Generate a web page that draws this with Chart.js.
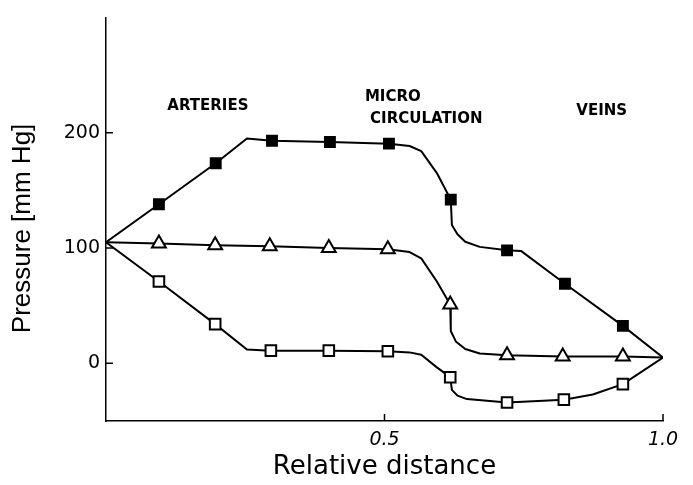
<!DOCTYPE html>
<html>
<head>
<meta charset="utf-8">
<script src="https://cdn.jsdelivr.net/npm/chart.js@4.4.1/dist/chart.umd.min.js"></script>
<style>
  html, body { margin: 0; padding: 0; background: #fff; }
  #wrap { width: 693px; height: 485px; }
</style>
</head>
<body>
<div id="wrap"><canvas id="pressureChart" width="693" height="485"></canvas></div>
<script>
// traced curves (mark = 1 where a symbol is drawn)
const highX = [0, 0.095, 0.197, 0.253, 0.298, 0.402, 0.508, 0.545, 0.566, 0.594, 0.619, 0.621, 0.631, 0.645, 0.671, 0.72, 0.745, 0.824, 0.928, 1.0];
const highY = [105, 138, 173.5, 195, 193, 192, 190.5, 188.5, 184, 165, 142, 120, 112, 105.5, 101, 98, 97.5, 69, 32.5, 5];
const highMark = [0, 1, 1, 0, 1, 1, 1, 0, 0, 0, 1, 0, 0, 0, 0, 1, 0, 1, 1, 0];

const midX = [0, 0.095, 0.196, 0.294, 0.4, 0.506, 0.545, 0.566, 0.594, 0.618, 0.619, 0.628, 0.645, 0.671, 0.72, 0.82, 0.928, 1.0];
const midY = [105, 104, 102.5, 101.5, 100, 99, 96.5, 91, 71, 51, 28, 19, 12.5, 8.5, 7, 6, 6, 5];
const midMark = [0, 1, 1, 1, 1, 1, 0, 0, 0, 1, 0, 0, 0, 0, 1, 1, 1, 0];

const lowX = [0, 0.095, 0.196, 0.253, 0.296, 0.4, 0.506, 0.545, 0.566, 0.594, 0.618, 0.621, 0.631, 0.648, 0.72, 0.822, 0.874, 0.928, 1.0];
const lowY = [105, 71, 34, 12, 11, 11, 10.5, 9.5, 7.5, -3.5, -12, -23, -28, -31, -34, -31.5, -27, -18, 5];
const lowMark = [0, 1, 1, 0, 1, 1, 1, 0, 0, 0, 1, 0, 0, 0, 1, 1, 0, 1, 0];

// axis ticks
const xTicks = [0.5, 1.0];
const xTickLabels = ["0.5", "1.0"];
const yTicks = [0, 100, 200];

// region labels
const regionText = ["ARTERIES", "MICRO", "CIRCULATION", "VEINS"];
const regionX = [0.183, 0.515, 0.575, 0.89];
const regionY = [224.5, 232.5, 213, 220.5];

const yTitle = "Pressure [mm Hg]";

function toPoints(xs, ys) {
  return xs.map((x, i) => ({ x: x, y: ys[i] }));
}

function series(xs, ys, marks, style, r, fill) {
  return {
    data: toPoints(xs, ys),
    borderColor: "#000",
    borderWidth: 2,
    tension: 0,
    borderJoinStyle: "round",
    pointStyle: style,
    pointRadius: ctx => marks[ctx.dataIndex] ? r : 0,
    pointBackgroundColor: fill,
    pointBorderColor: "#000",
    pointBorderWidth: 2,
    fill: false
  };
}

// inside tick marks, y title, region labels
const extras = {
  id: "extras",
  afterDraw(chart) {
    const ctx = chart.ctx;
    const xs = chart.scales.x, ys = chart.scales.y;
    const area = chart.chartArea;
    ctx.save();
    ctx.strokeStyle = "#000";
    ctx.lineWidth = 1.5;
    ctx.beginPath();
    yTicks.forEach(v => {
      const py = ys.getPixelForValue(v);
      ctx.moveTo(area.left, py);
      ctx.lineTo(area.left + 7, py);
    });
    xTicks.forEach(v => {
      const px = xs.getPixelForValue(v);
      ctx.moveTo(px, area.bottom);
      ctx.lineTo(px, area.bottom - 7);
    });
    ctx.stroke();

    ctx.fillStyle = "#000";
    ctx.save();
    ctx.translate(23, ys.getPixelForValue(117));
    ctx.rotate(-Math.PI / 2);
    ctx.font = "26px 'Liberation Sans'";
    ctx.textAlign = "center";
    ctx.textBaseline = "middle";
    ctx.fillText(yTitle, 0, 0);
    ctx.restore();

    ctx.font = "bold 15px 'DejaVu Sans'";
    ctx.textAlign = "center";
    ctx.textBaseline = "alphabetic";
    regionText.forEach((t, i) => {
      ctx.fillText(t, xs.getPixelForValue(regionX[i]), ys.getPixelForValue(regionY[i]) + 5.5);
    });
    ctx.restore();
  }
};

new Chart(document.getElementById("pressureChart").getContext("2d"), {
  type: "line",
  data: {
    datasets: [
      series(highX, highY, highMark, "rect", 7, "#000"),
      series(midX, midY, midMark, "triangle", 8, "#fff"),
      series(lowX, lowY, lowMark, "rect", 7.5, "#fff")
    ]
  },
  options: {
    responsive: false,
    animation: false,
    events: [],
    layout: { padding: { top: 12, right: 30, left: 0, bottom: 0 } },
    plugins: {
      legend: { display: false },
      tooltip: { enabled: false }
    },
    scales: {
      x: {
        type: "linear",
        min: 0,
        max: 1,
        afterFit: s => { s.height = 64; },
        afterBuildTicks: s => { s.ticks = xTicks.map(v => ({ value: v })); },
        grid: { display: true, color: "rgba(0,0,0,0)", drawOnChartArea: false, drawTicks: false },
        border: { display: true, color: "#000", width: 1.5 },
        ticks: {
          color: "#000",
          padding: 8,
          maxRotation: 0,
          font: { family: "'DejaVu Sans'", size: 19, style: "italic" },
          callback: v => xTickLabels[xTicks.indexOf(v)]
        },
        title: {
          display: true,
          text: "Relative distance",
          color: "#000",
          font: { family: "'DejaVu Sans'", size: 26 },
          padding: { top: 0, bottom: 2 }
        }
      },
      y: {
        type: "linear",
        min: -50,
        max: 300,
        afterFit: s => { s.width = 106; },
        afterBuildTicks: s => { s.ticks = yTicks.map(v => ({ value: v })); },
        grid: { display: true, color: "rgba(0,0,0,0)", drawOnChartArea: false, drawTicks: false },
        border: { display: true, color: "#000", width: 1.5 },
        ticks: {
          color: "#000",
          padding: 6,
          font: { family: "'DejaVu Sans'", size: 19 }
        }
      }
    }
  },
  plugins: [extras]
});
</script>
</body>
</html>
